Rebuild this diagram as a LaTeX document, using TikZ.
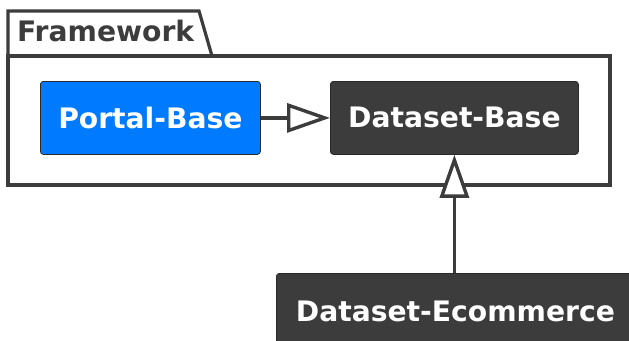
\documentclass[tikz,border=0pt]{standalone}
\usepackage{fontspec}
\setmainfont{DejaVu Sans}
\usetikzlibrary{arrows.meta}
\definecolor{umlgray}{RGB}{60,60,60}
\definecolor{umlblue}{RGB}{0,123,255}

\begin{document}
\begin{tikzpicture}[x=1pt,y=-1pt,
    classbox/.style={draw=umlgray!70!black, line width=0.8pt, rounded corners=3pt,
      text=white, font=\fontsize{28.2}{33}\selectfont\bfseries,
      anchor=north west, inner sep=0pt, minimum height=73pt},
    pkgline/.style={draw=umlgray, line width=3.2pt, line join=miter},
    extends/.style={draw=umlgray, line width=3.4pt,
      -{Triangle[open, length=43pt, width=29pt, fill=white]}}]
  \useasboundingbox (0,0) rectangle (629,340);
  % package Framework
  \draw[pkgline] (8,56) -- (8,11) -- (199,11) -- (212,56);
  \draw[pkgline] (8,56) rectangle (610,185);
  \node (fwlabel) [anchor=base west, inner sep=0pt, text=umlgray,
    font=\fontsize{28.2}{33}\selectfont\bfseries] at (17,41) {Framework};
  % classes
  \node (portal) [classbox, fill=umlblue, minimum width=220pt] at (40,81) {Portal-Base};
  \node (dsbase) [classbox, fill=umlgray, minimum width=248pt] at (330,81) {Dataset-Base};
  \node (dsecom) [classbox, fill=umlgray, minimum width=358pt, minimum height=76pt] at (276,273) {Dataset-Ecommerce};
  % inheritance
  \draw[extends] (portal) -- (dsbase);
  \draw[extends] (dsecom.north -| dsbase.south) -- (dsbase.south);
\end{tikzpicture}
\end{document}
